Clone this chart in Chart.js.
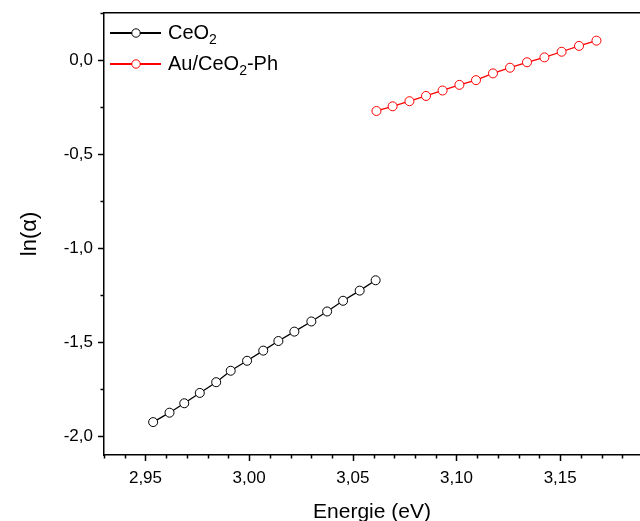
<!DOCTYPE html>
<html>
<head>
<meta charset="utf-8">
<script src="https://cdn.jsdelivr.net/npm/chart.js@4.4.0/dist/chart.umd.min.js"></script>
<style>html,body{margin:0;padding:0;background:#fff;overflow:hidden}</style>
</head>
<body>
<canvas id="tauc" width="640" height="521"></canvas>
<script>
// values
var energyCeO2 = [2.9537, 2.9616, 2.9687, 2.9762, 2.9841, 2.9911, 2.9990, 3.0068, 3.0141, 3.0218, 3.0300, 3.0376, 3.0453, 3.0533, 3.0610];
var lnCeO2 = [-1.925, -1.875, -1.825, -1.770, -1.713, -1.652, -1.599, -1.545, -1.494, -1.444, -1.390, -1.337, -1.280, -1.226, -1.171];
var energyAu = [3.0614, 3.0692, 3.0773, 3.0853, 3.0933, 3.1014, 3.1094, 3.1176, 3.1258, 3.1340, 3.1424, 3.1507, 3.1591, 3.1675];
var lnAu = [-0.271, -0.246, -0.219, -0.191, -0.162, -0.132, -0.107, -0.071, -0.041, -0.012, 0.014, 0.044, 0.075, 0.103];
var seriesNames = ['CeO', 'Au/CeO'];
var xTicks = [2.95, 3.00, 3.05, 3.10, 3.15];
var yTicks = [0, -0.5, -1.0, -1.5, -2.0];

var FONT = '"Liberation Sans", Arial, sans-serif';

function toPoints(xs, ys) {
  return xs.map(function (x, i) { return { x: x, y: ys[i] }; });
}

// outward major/minor tick marks, like Origin
var tickPlugin = {
  id: 'ticks',
  afterDraw: function (chart) {
    var ctx = chart.ctx, x = chart.scales.x, y = chart.scales.y;
    var area = chart.chartArea;
    ctx.save();
    ctx.strokeStyle = '#000';
    ctx.lineWidth = 1.5;
    var v, p, len;
    for (var i = 0; ; i++) {
      v = x.min + i * 0.01;
      if (v > x.max + 1e-9) break;
      p = Math.round(x.getPixelForValue(v)) + 0.5;
      len = Math.abs(Math.round(v * 100) % 5) === 0 ? 6 : 3.5;
      ctx.beginPath(); ctx.moveTo(p, area.bottom); ctx.lineTo(p, area.bottom + len); ctx.stroke();
    }
    for (var j = 0; ; j++) {
      v = -2.0 + j * 0.25;
      if (v > y.max + 1e-9) break;
      p = Math.round(y.getPixelForValue(v)) + 0.5;
      len = Math.abs(Math.round(v * 100) % 50) === 0 ? 6 : 3.5;
      ctx.beginPath(); ctx.moveTo(area.left, p); ctx.lineTo(area.left - len, p); ctx.stroke();
    }
    ctx.restore();
  }
};

// legend with "—o—" markers and subscript 2
var legendPlugin = {
  id: 'originLegend',
  afterDraw: function (chart) {
    var ctx = chart.ctx;
    ctx.save();
    chart.data.datasets.forEach(function (ds, k) {
      var cy = 33 + k * 31;
      ctx.strokeStyle = ds.borderColor;
      ctx.lineWidth = 2;
      ctx.beginPath(); ctx.moveTo(110, cy); ctx.lineTo(161, cy); ctx.stroke();
      ctx.fillStyle = '#fff';
      ctx.lineWidth = 1;
      ctx.beginPath(); ctx.arc(136, cy, 4.2, 0, Math.PI * 2); ctx.fill(); ctx.stroke();
      ctx.fillStyle = '#000';
      ctx.textBaseline = 'middle';
      ctx.font = '20px ' + FONT;
      var tx = 168;
      ctx.fillText(seriesNames[k], tx, cy);
      tx += ctx.measureText(seriesNames[k]).width;
      ctx.font = '14px ' + FONT;
      ctx.fillText('2', tx, cy + 7);
      tx += ctx.measureText('2').width;
      if (k === 1) {
        ctx.font = '20px ' + FONT;
        ctx.fillText('-Ph', tx, cy);
      }
    });
    ctx.restore();
  }
};

new Chart(document.getElementById('tauc'), {
  type: 'scatter',
  data: {
    datasets: [{
      label: 'CeO2',
      data: toPoints(energyCeO2, lnCeO2),
      showLine: true,
      borderColor: '#000000',
      backgroundColor: '#ffffff',
      borderWidth: 1.3,
      pointRadius: 4.5,
      pointBorderWidth: 1,
      pointBackgroundColor: '#ffffff'
    }, {
      label: 'Au/CeO2-Ph',
      data: toPoints(energyAu, lnAu),
      showLine: true,
      borderColor: '#ff0000',
      backgroundColor: '#ffffff',
      borderWidth: 1.3,
      pointRadius: 4.5,
      pointBorderWidth: 1,
      pointBackgroundColor: '#ffffff'
    }]
  },
  options: {
    responsive: false,
    animation: false,
    devicePixelRatio: 1,
    layout: { autoPadding: false, padding: { top: 13, right: 0, left: 0, bottom: 0 } },
    plugins: { legend: { display: false }, tooltip: { enabled: false } },
    scales: {
      x: {
        type: 'linear',
        min: 2.93,
        max: 3.1885,
        grid: { display: false, drawTicks: false },
        border: { display: true, color: '#000', width: 1.5 },
        afterBuildTicks: function (s) { s.ticks = xTicks.map(function (v) { return { value: v }; }); },
        afterFit: function (s) { s.height = 66; s.paddingLeft = 0; s.paddingRight = 0; },
        ticks: {
          color: '#000', padding: 13,
          font: { family: FONT, size: 17 },
          callback: function (v) { return v.toFixed(2).replace('.', ','); }
        },
        title: {
          display: true, text: 'Energie (eV)', color: '#000',
          font: { family: FONT, size: 21, lineHeight: 1 },
          padding: { top: 0, bottom: -2 }
        }
      },
      xTop: {
        type: 'linear',
        position: 'top',
        min: 2.93,
        max: 3.1885,
        grid: { display: false, drawTicks: false },
        ticks: { display: false },
        border: { display: true, color: '#000', width: 1.5 },
        afterFit: function (s) { s.height = 0; s.paddingLeft = 0; s.paddingRight = 0; }
      },
      y: {
        type: 'linear',
        min: -2.1,
        max: 0.25,
        grid: { display: false, drawTicks: false },
        border: { display: true, color: '#000', width: 1.5 },
        afterBuildTicks: function (s) { s.ticks = yTicks.map(function (v) { return { value: v }; }); },
        afterFit: function (s) { s.width = 104; s.paddingTop = 0; s.paddingBottom = 0; },
        ticks: {
          color: '#000', padding: 11,
          font: { family: FONT, size: 17 },
          callback: function (v) { return v.toFixed(1).replace('.', ','); }
        },
        title: {
          display: true, text: 'ln(α)', color: '#000',
          font: { family: FONT, size: 22, lineHeight: 1 },
          padding: { top: 19, bottom: 0 }
        }
      }
    }
  },
  plugins: [tickPlugin, legendPlugin]
});
</script>
</body>
</html>
